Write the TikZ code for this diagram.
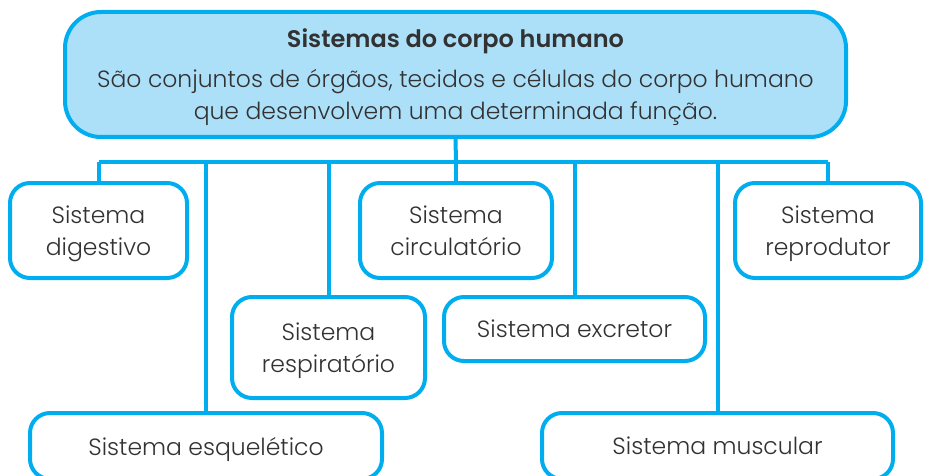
\documentclass[tikz,border=0pt]{standalone}
\usepackage{fontspec}
\setmainfont{Poppins}[UprightFont=* Light, BoldFont=* SemiBold]
\usepackage{tikz}

\definecolor{azul}{RGB}{0,174,239}
\definecolor{azulclaro}{RGB}{172,224,249}
\definecolor{texto}{RGB}{50,50,50}

\begin{document}
\begin{tikzpicture}[x=1pt,y=-1pt,
    caixa/.style={rectangle, draw=azul, line width=4pt, rounded corners=20pt, fill=white, text=texto, align=center, text depth=0pt, font=\fontsize{23.5}{32}\selectfont},
    liga/.style={draw=azul, line width=4pt}]
    \useasboundingbox (0,0) rectangle (926,476);
    \clip (0,0) rectangle (926,476);

    \node[caixa, fill=azulclaro, rounded corners=36pt, minimum width=781pt, minimum height=125pt](topo) at (455.5,74.5)
        {{\fontsize{24}{26}\selectfont\bfseries Sistemas do corpo humano}\\[8pt]
         São conjuntos de órgãos, tecidos e células do corpo humano\\
         que desenvolvem uma determinada função.};

    \coordinate (barra) at (456,162);

    \node[caixa, minimum width=177pt, minimum height=95pt](dig) at (98.5,230.5){Sistema\\digestivo};
    \node[caixa, minimum width=192pt, minimum height=95pt](circ) at (456,230.5){Sistema\\circulatório};
    \node[caixa, minimum width=186pt, minimum height=95pt](rep) at (828,230.5){Sistema\\reprodutor};
    \node[caixa, minimum width=193pt, minimum height=101pt](resp) at (328.5,347.5){Sistema\\respiratório};
    \node[caixa, minimum width=261pt, minimum height=64pt](excr) at (574.5,329){Sistema excretor};
    \node[caixa, minimum width=352pt, minimum height=66pt](esq) at (206,446){Sistema esquelético};
    \node[caixa, minimum width=351pt, minimum height=66pt](musc) at (717.5,446){Sistema muscular};

    \draw[liga] (topo.south) -- (barra);
    \draw[liga] (dig |- barra) -- (rep |- barra);
    \draw[liga] (dig |- barra) -- (dig.north);
    \draw[liga] (esq |- barra) -- (esq.north);
    \draw[liga] (resp |- barra) -- (resp.north);
    \draw[liga] (circ |- barra) -- (circ.north);
    \draw[liga] (excr |- barra) -- (excr.north);
    \draw[liga] (musc |- barra) -- (musc.north);
    \draw[liga] (rep |- barra) -- (rep.north);
\end{tikzpicture}
\end{document}
